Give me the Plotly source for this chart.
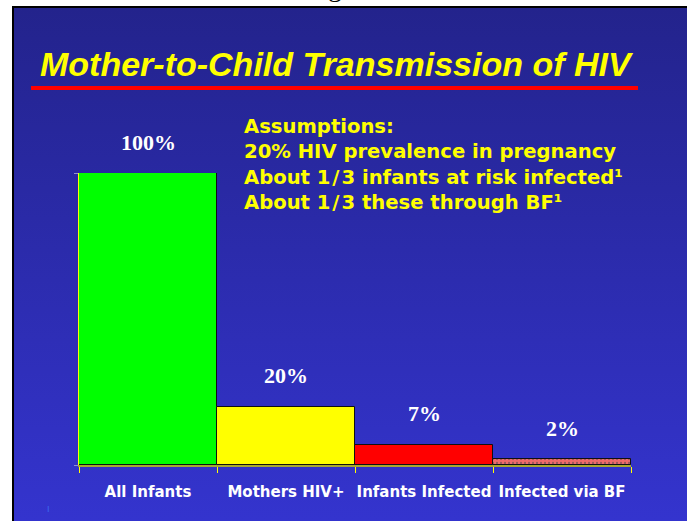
import base64
import plotly.graph_objects as go

# ---- data ----
categories = ["All Infants", "Mothers HIV+", "Infants Infected", "Infected via BF"]
values = [100, 20, 7, 2]
value_labels = ["100%", "20%", "7%", "2%"]
bar_colors = ["#00FF00", "#FFFF00", "#FF0000", "#F06A6A"]
bar_patterns = ["", "", "", "."]
title_text = "Mother-to-Child Transmission of HIV"
assumption_lines = [
    "Assumptions:",
    "20% HIV prevalence in pregnancy",
    "About 1\u200a/\u200a3 infants at risk infected\u00b9",
    "About 1\u200a/\u200a3 these through BF\u00b9",
]

W, H = 687, 521
L, R, T, B = 79, 56, 173, 56
PW, PH = W - L - R, H - T - B


def px(x):
    return (x - L) / PW


def py(y):
    return (H - B - y) / PH


# gradient background as an SVG image
svg = (
    '<svg xmlns="http://www.w3.org/2000/svg" width="100" height="100" preserveAspectRatio="none">'
    '<defs><linearGradient id="g" x1="0" y1="0" x2="0" y2="1">'
    '<stop offset="0" stop-color="#23238C"/><stop offset="1" stop-color="#3434CE"/>'
    '</linearGradient></defs><rect width="100" height="100" fill="url(#g)"/></svg>'
)
svg_uri = "data:image/svg+xml;base64," + base64.b64encode(svg.encode()).decode()

fig = go.Figure()
fig.add_trace(go.Bar(
    x=categories, y=values,
    marker=dict(
        color=bar_colors,
        line=dict(color="#101010", width=1),
        pattern=dict(shape=bar_patterns, fgcolor="#FFE0E0", size=4, solidity=0.25,
                     fillmode="overlay"),
    ),
    width=1.0,
    hoverinfo="skip",
))

images = [dict(source=svg_uri, xref="paper", yref="paper", layer="below",
               x=px(14), y=py(8), sizex=px(W) - px(14), sizey=py(8) - py(H),
               xanchor="left", yanchor="top", sizing="stretch")]

shapes = []
shapes.append(dict(type="line", xref="paper", yref="paper", layer="below",
                   x0=px(12), x1=px(W), y0=py(7), y1=py(7), line=dict(color="black", width=2)))
shapes.append(dict(type="line", xref="paper", yref="paper", layer="below",
                   x0=px(13), x1=px(13), y0=py(6), y1=py(H), line=dict(color="black", width=2)))
shapes.append(dict(type="line", xref="paper", yref="paper",
                   x0=px(31), x1=px(638), y0=py(88), y1=py(88), line=dict(color="#FF0000", width=4)))

annotations = []
for c, v, lab in zip(categories, values, value_labels):
    annotations.append(dict(x=c, y=v, xref="x", yref="y", text="<b>" + lab + "</b>", showarrow=False,
                            yanchor="middle", yshift=31,
                            font=dict(family="Liberation Serif", size=22, color="white")))
annotations.append(dict(x=px(38), y=py(64), xref="paper", yref="paper", xanchor="left", yanchor="middle",
                        text="<b><i>" + title_text + "</i></b>", showarrow=False,
                        font=dict(family="Liberation Sans", size=34, color="#FFFF00")))
annotations.append(dict(x=px(242), y=py(164), xref="paper", yref="paper", xanchor="left", yanchor="middle",
                        align="left", text="<br>".join("<b>" + s + "</b>" for s in assumption_lines),
                        showarrow=False,
                        font=dict(family="DejaVu Sans", size=19.6, color="#FFFF00")))
annotations.append(dict(x=px(335), y=py(4), xref="paper", yref="paper", xanchor="center", yanchor="bottom",
                        text="g", showarrow=False,
                        font=dict(family="Liberation Serif", size=28, color="black")))
annotations.append(dict(x=px(48), y=py(509), xref="paper", yref="paper", xanchor="center", yanchor="middle",
                        text="I", showarrow=False,
                        font=dict(family="Liberation Sans", size=9, color="#3A6AF0")))

fig.update_layout(
    width=W, height=H,
    margin=dict(l=L, r=R, t=T, b=B, pad=0, autoexpand=False),
    paper_bgcolor="white",
    plot_bgcolor="rgba(0,0,0,0)",
    bargap=0,
    showlegend=False,
    images=images,
    shapes=shapes,
    annotations=annotations,
    xaxis=dict(type="category", showline=True, linecolor="#A8A830", linewidth=2,
               ticks="outside", tickson="boundaries", tickcolor="#FFFF00", ticklen=6, tickwidth=1,
               showgrid=False, zeroline=False, ticklabelstandoff=12, tickangle=0, automargin=False,
               tickfont=dict(family="DejaVu Sans", size=15, color="white"),
               tickprefix="<b>", ticksuffix="</b>"),
    yaxis=dict(range=[0, 100], showline=True, linecolor="#FFFF00", linewidth=1,
               tickvals=[0, 100], ticks="outside", ticklen=4, tickcolor="#9090D0", automargin=False,
               showticklabels=False, showgrid=False, zeroline=False),
)

fig.write_html("out.html", config={"displayModeBar": False},
               post_script="document.body.style.margin='0';document.body.style.overflow='hidden';")
